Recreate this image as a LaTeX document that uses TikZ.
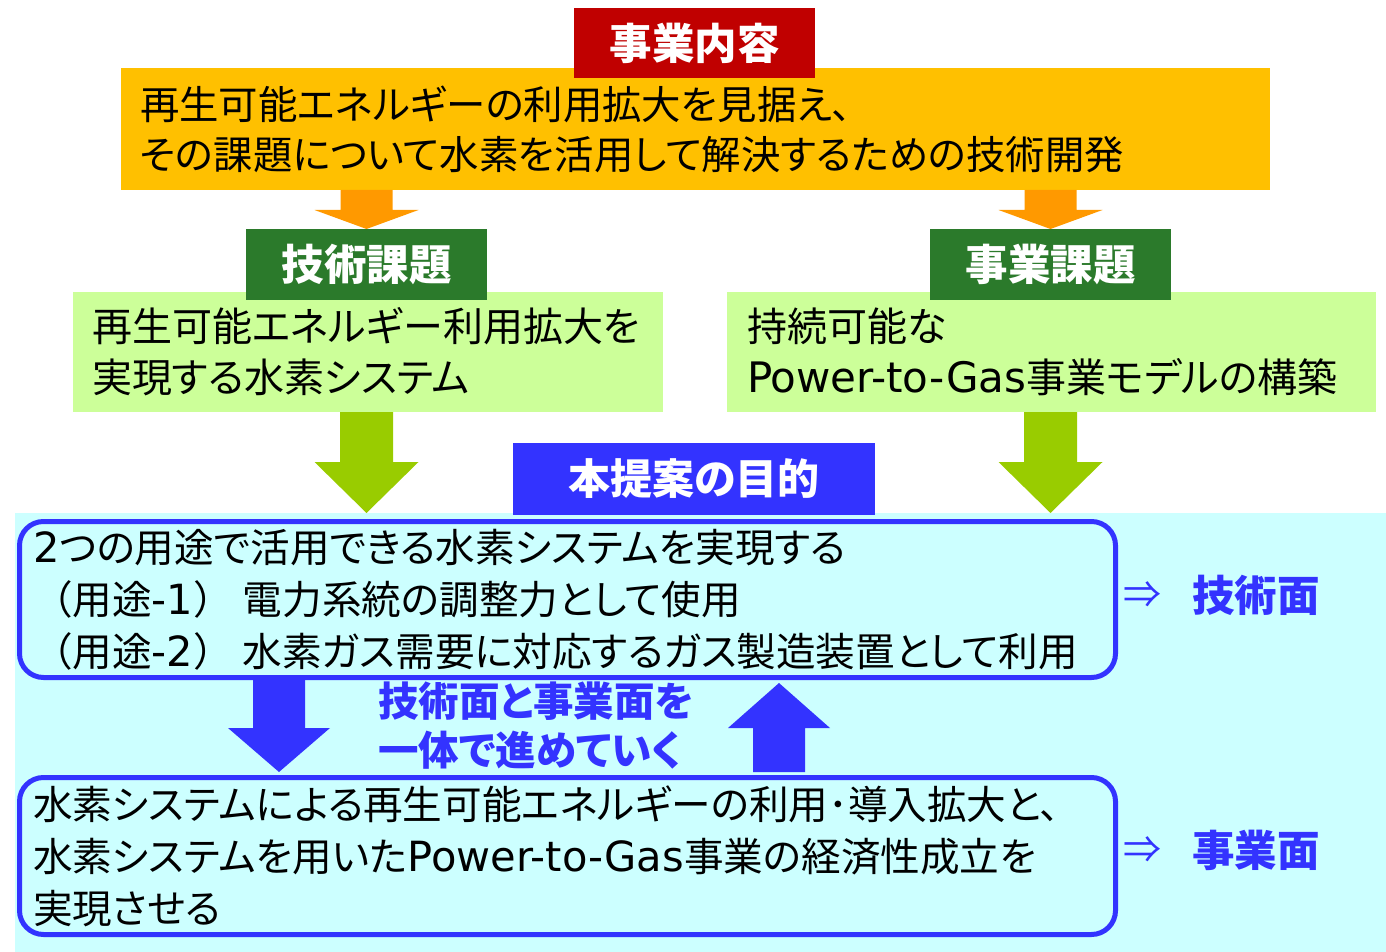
\documentclass[tikz,border=0pt]{standalone}
\usepackage{fontspec}
\setmainfont{Noto Sans CJK JP}[RawFeature=+palt]
\newfontfamily\fwfont{Noto Sans CJK JP}
\newfontfamily\latfont{DejaVu Sans}[Scale=1.05]
\newcommand\lt[1]{{\latfont #1}}
\newcommand\fw[1]{{\fwfont #1}}
\usetikzlibrary{calc}
\definecolor{cRed}{HTML}{C00000}
\definecolor{cOrange}{HTML}{FFC000}
\definecolor{cOrArrow}{HTML}{FF9900}
\definecolor{cDkGreen}{HTML}{2B7A2B}
\definecolor{cLtGreen}{HTML}{CCFF99}
\definecolor{cGrArrow}{HTML}{99CC00}
\definecolor{cBlue}{HTML}{3333FF}
\definecolor{cCyan}{HTML}{CCFFFF}
\newcommand\blockarrow[6]{%
  \fill[#1] let \p1=(#2), \p2=(#3), \n1={ifthenelse(\y2<\y1,-1,1)} in
    (\x1-#4,\y1) -- (\x1-#4,\y2-\n1*#6) -- (\x1-#5,\y2-\n1*#6) -- (\x1,\y2)
    -- (\x1+#5,\y2-\n1*#6) -- (\x1+#4,\y2-\n1*#6) -- (\x1+#4,\y1) -- cycle;}
\tikzset{
  plainbox/.style={inner sep=0pt, outer sep=0pt, anchor=center},
  headbox/.style={plainbox, text=white, font=\bfseries\fontsize{42.5}{42.5}\selectfont},
  textbox/.style={plainbox, align=left, font=\fontsize{39.4}{50}\selectfont},
  roundbox/.style={plainbox, draw=cBlue, line width=5pt, rounded corners=24pt, fill=cCyan,
     align=left, font=\fontsize{39.6}{52}\selectfont, inner xsep=13.5pt},
  sidelabel/.style={plainbox, text=cBlue, font=\bfseries\fontsize{42.5}{42.5}\selectfont},
  sidearrow/.style={plainbox, text=cBlue, font=\fontsize{38}{38}\selectfont},
}
\begin{document}
\begin{tikzpicture}[x=1pt,y=-1pt]
\useasboundingbox (0,0) rectangle (1386,952);
% top
\node[textbox, fill=cOrange, minimum width=1149pt, minimum height=122pt, text width=1111pt, inner xsep=19pt]
  (topbox) at (695.5,129) {再生可能エネルギーの利用拡大を見据え、\\その課題について水素を活用して解決するための技術開発};
\node[headbox, fill=cRed, minimum width=241pt, minimum height=70pt] (naiyou) at (694.5,43) {事業内容};
% second row
\node[textbox, fill=cLtGreen, minimum width=590pt, minimum height=120pt, text width=552pt, inner xsep=19pt,
  font=\fontsize{40}{51}\selectfont] (techbox) at (368,352) {再生可能エネルギー利用拡大を\\実現する水素システム};
\node[textbox, fill=cLtGreen, minimum width=649pt, minimum height=120pt, text width=609pt, inner xsep=20pt,
  font=\fontsize{40}{51}\selectfont] (bizbox) at (1051.5,352) {持続可能な\\\lt{Power-to-Gas}事業モデルの構築};
\node[headbox, fill=cDkGreen, minimum width=241pt, minimum height=71pt] (techhead) at (366.5,264.5) {技術課題};
\node[headbox, fill=cDkGreen, minimum width=241pt, minimum height=71pt] (bizhead) at (1050.5,264.5) {事業課題};
% orange arrows
\blockarrow{cOrArrow}{topbox.south -| techhead.north}{techhead.north}{26pt}{52pt}{19pt}
\blockarrow{cOrArrow}{topbox.south -| bizhead.north}{bizhead.north}{26pt}{52pt}{19pt}
% background
\node[plainbox, fill=cCyan, minimum width=1371pt, minimum height=439pt, anchor=north west] (bg) at (15,513) {};
\node[headbox, fill=cBlue, minimum width=362pt, minimum height=72pt, font=\bfseries\fontsize{42}{42}\selectfont] (goal) at (694,479) {本提案の目的};
% green arrows
\blockarrow{cGrArrow}{techbox.south -| techhead.north}{bg.north -| techhead.north}{26.5pt}{52pt}{51pt}
\blockarrow{cGrArrow}{bizbox.south -| bizhead.north}{bg.north -| bizhead.north}{26.5pt}{52pt}{51pt}
% rounded boxes
\node[roundbox, minimum width=1096pt, minimum height=156pt, text width=1069pt] (aim1) at (567.5,599.5)
  {\lt{2}つの用途で活用できる水素システムを実現する\\\fw{（}用途\lt{-1}\fw{）}\hspace{10pt}電力系統の調整力として使用\\\fw{（}用途\lt{-2}\fw{）}\hspace{10pt}水素ガス需要に対応するガス製造装置として利用};
\node[roundbox, minimum width=1096pt, minimum height=157pt, text width=1069pt] (aim2) at (567.5,856)
  {水素システムによる再生可能エネルギーの利用･導入拡大と、\\水素システムを用いた\lt{Power-to-Gas}事業の経済性成立を\\実現させる};
% blue arrows
\coordinate (dnS) at (279,680);
\coordinate (dnE) at (279,772);
\coordinate (upS) at (779,772);
\coordinate (upE) at (779,683);
\blockarrow{cBlue}{dnS}{dnE}{26pt}{51pt}{44pt}
\blockarrow{cBlue}{upS}{upE}{26pt}{51pt}{45pt}
\node[sidelabel, align=left, anchor=north west, font=\bfseries\fontsize{40.5}{49}\selectfont] (together) at (378,682)
  {技術面と事業面を\\一体で進めていく};
% side labels
\node[sidearrow] (arr1) at (1142,595) {⇒};
\node[sidelabel] (men1) at (1256,595) {技術面};
\node[sidearrow] (arr2) at (1142,850) {⇒};
\node[sidelabel] (men2) at (1256,850) {事業面};
\end{tikzpicture}
\end{document}
